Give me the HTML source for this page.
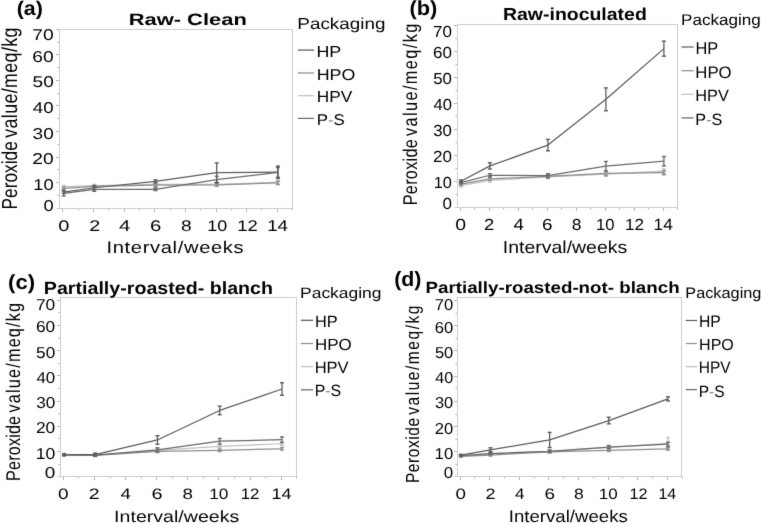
<!DOCTYPE html>
<html><head><meta charset="utf-8"><style>
html,body{margin:0;padding:0;background:#fff;}
body{width:761px;height:524px;overflow:hidden;}
svg{display:block;}
#w{width:761px;height:524px;filter:grayscale(1);}
text{font-family:"Liberation Sans",sans-serif;font-kerning:none;text-rendering:geometricPrecision;}
</style></head><body>
<div id="w"><svg width="761" height="524" viewBox="0 0 761 524">
<defs><filter id="sf" x="0" y="0" width="761" height="524" filterUnits="userSpaceOnUse" color-interpolation-filters="sRGB"><feConvolveMatrix order="3" kernelMatrix="0.01 0.1 0.01 0.1 1 0.1 0.01 0.1 0.01" divisor="1.44" edgeMode="duplicate"/></filter></defs>
<g filter="url(#sf)">
<rect width="761" height="524" fill="#fff"/>
<line x1="57.5" y1="195.5" x2="59.5" y2="195.5" stroke="#b4b4b4" stroke-width="1"/>
<line x1="56" y1="182.5" x2="59.5" y2="182.5" stroke="#b4b4b4" stroke-width="1"/>
<line x1="57.5" y1="169.5" x2="59.5" y2="169.5" stroke="#b4b4b4" stroke-width="1"/>
<line x1="56" y1="157.5" x2="59.5" y2="157.5" stroke="#b4b4b4" stroke-width="1"/>
<line x1="57.5" y1="144.5" x2="59.5" y2="144.5" stroke="#b4b4b4" stroke-width="1"/>
<line x1="56" y1="131.5" x2="59.5" y2="131.5" stroke="#b4b4b4" stroke-width="1"/>
<line x1="57.5" y1="118.5" x2="59.5" y2="118.5" stroke="#b4b4b4" stroke-width="1"/>
<line x1="56" y1="105.5" x2="59.5" y2="105.5" stroke="#b4b4b4" stroke-width="1"/>
<line x1="57.5" y1="93.5" x2="59.5" y2="93.5" stroke="#b4b4b4" stroke-width="1"/>
<line x1="56" y1="80.5" x2="59.5" y2="80.5" stroke="#b4b4b4" stroke-width="1"/>
<line x1="57.5" y1="67.5" x2="59.5" y2="67.5" stroke="#b4b4b4" stroke-width="1"/>
<line x1="56" y1="54.5" x2="59.5" y2="54.5" stroke="#b4b4b4" stroke-width="1"/>
<line x1="57.5" y1="42.5" x2="59.5" y2="42.5" stroke="#b4b4b4" stroke-width="1"/>
<line x1="56" y1="29.5" x2="59.5" y2="29.5" stroke="#b4b4b4" stroke-width="1"/>
<line x1="62.5" y1="208.5" x2="62.5" y2="212" stroke="#b4b4b4" stroke-width="1"/>
<line x1="78.5" y1="208.5" x2="78.5" y2="210.5" stroke="#b4b4b4" stroke-width="1"/>
<line x1="93.5" y1="208.5" x2="93.5" y2="212" stroke="#b4b4b4" stroke-width="1"/>
<line x1="108.5" y1="208.5" x2="108.5" y2="210.5" stroke="#b4b4b4" stroke-width="1"/>
<line x1="124.5" y1="208.5" x2="124.5" y2="212" stroke="#b4b4b4" stroke-width="1"/>
<line x1="139.5" y1="208.5" x2="139.5" y2="210.5" stroke="#b4b4b4" stroke-width="1"/>
<line x1="154.5" y1="208.5" x2="154.5" y2="212" stroke="#b4b4b4" stroke-width="1"/>
<line x1="170.5" y1="208.5" x2="170.5" y2="210.5" stroke="#b4b4b4" stroke-width="1"/>
<line x1="185.5" y1="208.5" x2="185.5" y2="212" stroke="#b4b4b4" stroke-width="1"/>
<line x1="200.5" y1="208.5" x2="200.5" y2="210.5" stroke="#b4b4b4" stroke-width="1"/>
<line x1="216.5" y1="208.5" x2="216.5" y2="212" stroke="#b4b4b4" stroke-width="1"/>
<line x1="231.5" y1="208.5" x2="231.5" y2="210.5" stroke="#b4b4b4" stroke-width="1"/>
<line x1="246.5" y1="208.5" x2="246.5" y2="212" stroke="#b4b4b4" stroke-width="1"/>
<line x1="261.5" y1="208.5" x2="261.5" y2="210.5" stroke="#b4b4b4" stroke-width="1"/>
<line x1="277.5" y1="208.5" x2="277.5" y2="212" stroke="#b4b4b4" stroke-width="1"/>
<line x1="292.5" y1="208.5" x2="292.5" y2="210.5" stroke="#b4b4b4" stroke-width="1"/>
<line x1="59" y1="29.5" x2="293" y2="29.5" stroke="#cdcdcd" stroke-width="1"/>
<line x1="292.5" y1="29.5" x2="292.5" y2="209" stroke="#cdcdcd" stroke-width="1"/>
<line x1="59.5" y1="29" x2="59.5" y2="209" stroke="#cdcdcd" stroke-width="1"/>
<line x1="56.5" y1="208.5" x2="293" y2="208.5" stroke="#cdcdcd" stroke-width="1"/>
<polyline points="63.7,186.73 94.3,185.71 155.5,184.43 216.7,184.43 277.9,182.38" fill="none" stroke="#c0c0c0" stroke-width="1.25" stroke-linejoin="round"/>
<line x1="63.7" y1="185.45" x2="63.7" y2="188.01" stroke="#c0c0c0" stroke-width="1.3"/>
<line x1="61.7" y1="185.45" x2="65.7" y2="185.45" stroke="#c0c0c0" stroke-width="1.4"/>
<line x1="61.7" y1="188.01" x2="65.7" y2="188.01" stroke="#c0c0c0" stroke-width="1.4"/>
<line x1="94.3" y1="184.43" x2="94.3" y2="186.99" stroke="#c0c0c0" stroke-width="1.3"/>
<line x1="92.3" y1="184.43" x2="96.3" y2="184.43" stroke="#c0c0c0" stroke-width="1.4"/>
<line x1="92.3" y1="186.99" x2="96.3" y2="186.99" stroke="#c0c0c0" stroke-width="1.4"/>
<line x1="155.5" y1="181.36" x2="155.5" y2="187.5" stroke="#c0c0c0" stroke-width="1.3"/>
<line x1="153.5" y1="181.36" x2="157.5" y2="181.36" stroke="#c0c0c0" stroke-width="1.4"/>
<line x1="153.5" y1="187.5" x2="157.5" y2="187.5" stroke="#c0c0c0" stroke-width="1.4"/>
<line x1="216.7" y1="182.9" x2="216.7" y2="185.96" stroke="#c0c0c0" stroke-width="1.3"/>
<line x1="214.7" y1="182.9" x2="218.7" y2="182.9" stroke="#c0c0c0" stroke-width="1.4"/>
<line x1="214.7" y1="185.96" x2="218.7" y2="185.96" stroke="#c0c0c0" stroke-width="1.4"/>
<line x1="277.9" y1="180.08" x2="277.9" y2="184.68" stroke="#c0c0c0" stroke-width="1.3"/>
<line x1="275.9" y1="180.08" x2="279.9" y2="180.08" stroke="#c0c0c0" stroke-width="1.4"/>
<line x1="275.9" y1="184.68" x2="279.9" y2="184.68" stroke="#c0c0c0" stroke-width="1.4"/>
<polyline points="63.7,188.26 94.3,186.47 155.5,185.2 216.7,184.94 277.9,182.9" fill="none" stroke="#8e8e8e" stroke-width="1.25" stroke-linejoin="round"/>
<line x1="63.7" y1="187.24" x2="63.7" y2="189.29" stroke="#8e8e8e" stroke-width="1.3"/>
<line x1="61.7" y1="187.24" x2="65.7" y2="187.24" stroke="#8e8e8e" stroke-width="1.4"/>
<line x1="61.7" y1="189.29" x2="65.7" y2="189.29" stroke="#8e8e8e" stroke-width="1.4"/>
<line x1="94.3" y1="185.45" x2="94.3" y2="187.5" stroke="#8e8e8e" stroke-width="1.3"/>
<line x1="92.3" y1="185.45" x2="96.3" y2="185.45" stroke="#8e8e8e" stroke-width="1.4"/>
<line x1="92.3" y1="187.5" x2="96.3" y2="187.5" stroke="#8e8e8e" stroke-width="1.4"/>
<line x1="155.5" y1="183.92" x2="155.5" y2="186.47" stroke="#8e8e8e" stroke-width="1.3"/>
<line x1="153.5" y1="183.92" x2="157.5" y2="183.92" stroke="#8e8e8e" stroke-width="1.4"/>
<line x1="153.5" y1="186.47" x2="157.5" y2="186.47" stroke="#8e8e8e" stroke-width="1.4"/>
<line x1="216.7" y1="183.66" x2="216.7" y2="186.22" stroke="#8e8e8e" stroke-width="1.3"/>
<line x1="214.7" y1="183.66" x2="218.7" y2="183.66" stroke="#8e8e8e" stroke-width="1.4"/>
<line x1="214.7" y1="186.22" x2="218.7" y2="186.22" stroke="#8e8e8e" stroke-width="1.4"/>
<line x1="277.9" y1="181.36" x2="277.9" y2="184.43" stroke="#8e8e8e" stroke-width="1.3"/>
<line x1="275.9" y1="181.36" x2="279.9" y2="181.36" stroke="#8e8e8e" stroke-width="1.4"/>
<line x1="275.9" y1="184.43" x2="279.9" y2="184.43" stroke="#8e8e8e" stroke-width="1.4"/>
<polyline points="63.7,193.38 94.3,189.29 155.5,189.29 216.7,179.57 277.9,172.42" fill="none" stroke="#6a6a6a" stroke-width="1.25" stroke-linejoin="round"/>
<line x1="63.7" y1="190.82" x2="63.7" y2="195.93" stroke="#6a6a6a" stroke-width="1.3"/>
<line x1="61.7" y1="190.82" x2="65.7" y2="190.82" stroke="#6a6a6a" stroke-width="1.4"/>
<line x1="61.7" y1="195.93" x2="65.7" y2="195.93" stroke="#6a6a6a" stroke-width="1.4"/>
<line x1="94.3" y1="187.24" x2="94.3" y2="191.33" stroke="#6a6a6a" stroke-width="1.3"/>
<line x1="92.3" y1="187.24" x2="96.3" y2="187.24" stroke="#6a6a6a" stroke-width="1.4"/>
<line x1="92.3" y1="191.33" x2="96.3" y2="191.33" stroke="#6a6a6a" stroke-width="1.4"/>
<line x1="155.5" y1="188.01" x2="155.5" y2="190.56" stroke="#6a6a6a" stroke-width="1.3"/>
<line x1="153.5" y1="188.01" x2="157.5" y2="188.01" stroke="#6a6a6a" stroke-width="1.4"/>
<line x1="153.5" y1="190.56" x2="157.5" y2="190.56" stroke="#6a6a6a" stroke-width="1.4"/>
<line x1="216.7" y1="176.25" x2="216.7" y2="182.9" stroke="#6a6a6a" stroke-width="1.3"/>
<line x1="214.7" y1="176.25" x2="218.7" y2="176.25" stroke="#6a6a6a" stroke-width="1.4"/>
<line x1="214.7" y1="182.9" x2="218.7" y2="182.9" stroke="#6a6a6a" stroke-width="1.4"/>
<line x1="277.9" y1="167.56" x2="277.9" y2="177.27" stroke="#6a6a6a" stroke-width="1.3"/>
<line x1="275.9" y1="167.56" x2="279.9" y2="167.56" stroke="#6a6a6a" stroke-width="1.4"/>
<line x1="275.9" y1="177.27" x2="279.9" y2="177.27" stroke="#6a6a6a" stroke-width="1.4"/>
<polyline points="63.7,192.1 94.3,187.75 155.5,181.36 216.7,172.67 277.9,172.16" fill="none" stroke="#5c5c5c" stroke-width="1.25" stroke-linejoin="round"/>
<line x1="63.7" y1="190.82" x2="63.7" y2="193.38" stroke="#5c5c5c" stroke-width="1.3"/>
<line x1="61.7" y1="190.82" x2="65.7" y2="190.82" stroke="#5c5c5c" stroke-width="1.4"/>
<line x1="61.7" y1="193.38" x2="65.7" y2="193.38" stroke="#5c5c5c" stroke-width="1.4"/>
<line x1="94.3" y1="185.71" x2="94.3" y2="189.8" stroke="#5c5c5c" stroke-width="1.3"/>
<line x1="92.3" y1="185.71" x2="96.3" y2="185.71" stroke="#5c5c5c" stroke-width="1.4"/>
<line x1="92.3" y1="189.8" x2="96.3" y2="189.8" stroke="#5c5c5c" stroke-width="1.4"/>
<line x1="155.5" y1="179.83" x2="155.5" y2="182.9" stroke="#5c5c5c" stroke-width="1.3"/>
<line x1="153.5" y1="179.83" x2="157.5" y2="179.83" stroke="#5c5c5c" stroke-width="1.4"/>
<line x1="153.5" y1="182.9" x2="157.5" y2="182.9" stroke="#5c5c5c" stroke-width="1.4"/>
<line x1="216.7" y1="162.96" x2="216.7" y2="182.38" stroke="#5c5c5c" stroke-width="1.3"/>
<line x1="214.7" y1="162.96" x2="218.7" y2="162.96" stroke="#5c5c5c" stroke-width="1.4"/>
<line x1="214.7" y1="182.38" x2="218.7" y2="182.38" stroke="#5c5c5c" stroke-width="1.4"/>
<line x1="277.9" y1="166.03" x2="277.9" y2="178.29" stroke="#5c5c5c" stroke-width="1.3"/>
<line x1="275.9" y1="166.03" x2="279.9" y2="166.03" stroke="#5c5c5c" stroke-width="1.4"/>
<line x1="275.9" y1="178.29" x2="279.9" y2="178.29" stroke="#5c5c5c" stroke-width="1.4"/>
<text transform="translate(16.63 15.18) scale(1.08171 1)" font-size="19.847" font-weight="bold" fill="#000">(a)</text>
<text transform="translate(128.63 24.8) scale(1.33675 1)" font-size="16.423" font-weight="bold" fill="#000">Raw- Clean</text>
<text transform="translate(297.35 29) scale(1.18958 1)" font-size="15.871" fill="#000">Packaging</text>
<text transform="translate(316.44 56.8) scale(1.12712 1)" font-size="15.843" fill="#000">HP</text>
<text transform="translate(316.64 79.6) scale(1.14149 1)" font-size="15.611" fill="#000">HPO</text>
<text transform="translate(316.68 101.9) scale(1.09271 1)" font-size="15.843" fill="#000">HPV</text>
<text transform="translate(316.71 124.5) scale(1.08217 1)" font-size="15.611" fill="#000">P<tspan fill="#8c8c8c">-</tspan>S</text>
<text transform="translate(106.54 252.7) scale(1.20000 1)" font-size="16.837" letter-spacing="0.517" fill="#000">Interval/weeks</text>
<text transform="translate(17.1 209.42) rotate(-90) scale(0.79735 1)" font-size="21.667" fill="#000">Peroxide</text>
<text transform="translate(17.1 137.76) rotate(-90) scale(0.82000 1)" font-size="21.667" letter-spacing="0.503" fill="#000">value/meq/kg</text>
<text transform="translate(43.48 211.05) scale(1.17421 1)" font-size="15.678" fill="#000">0</text>
<text transform="translate(33.3 189.64) scale(1.17069 1)" font-size="15.678" fill="#000">10</text>
<text transform="translate(32.33 164.08) scale(1.22836 1)" font-size="15.678" fill="#000">20</text>
<text transform="translate(32.58 138.52) scale(1.21388 1)" font-size="15.678" fill="#000">30</text>
<text transform="translate(32.87 112.96) scale(1.19638 1)" font-size="15.678" fill="#000">40</text>
<text transform="translate(32.54 87.4) scale(1.21617 1)" font-size="15.678" fill="#000">50</text>
<text transform="translate(32.32 61.84) scale(1.22895 1)" font-size="15.678" fill="#000">60</text>
<text transform="translate(32.31 40.05) scale(1.22954 1)" font-size="15.678" fill="#000">70</text>
<text transform="translate(58.22 230.85) scale(1.31654 1)" font-size="15.254" fill="#000">0</text>
<text transform="translate(89.21 231) scale(1.27724 1)" font-size="15.467" fill="#000">2</text>
<text transform="translate(118.93 231) scale(1.30210 1)" font-size="15.698" fill="#000">4</text>
<text transform="translate(149.97 230.85) scale(1.33549 1)" font-size="15.254" fill="#000">6</text>
<text transform="translate(180.97 230.85) scale(1.25737 1)" font-size="15.254" fill="#000">8</text>
<text transform="translate(207.23 230.85) scale(1.17691 1)" font-size="15.254" fill="#000">10</text>
<text transform="translate(237.19 231) scale(1.19357 1)" font-size="15.467" fill="#000">12</text>
<text transform="translate(267.17 231) scale(1.19581 1)" font-size="15.698" fill="#000">14</text>
<line x1="298" y1="50.1" x2="313.9" y2="50.1" stroke="#5c5c5c" stroke-width="1.25"/>
<line x1="298" y1="73" x2="313.9" y2="73" stroke="#8e8e8e" stroke-width="1.25"/>
<line x1="298" y1="95.7" x2="313.9" y2="95.7" stroke="#c0c0c0" stroke-width="1.25"/>
<line x1="298" y1="118.4" x2="313.9" y2="118.4" stroke="#6a6a6a" stroke-width="1.25"/>
<line x1="455.5" y1="194.5" x2="457.5" y2="194.5" stroke="#b4b4b4" stroke-width="1"/>
<line x1="454" y1="181.5" x2="457.5" y2="181.5" stroke="#b4b4b4" stroke-width="1"/>
<line x1="455.5" y1="168.5" x2="457.5" y2="168.5" stroke="#b4b4b4" stroke-width="1"/>
<line x1="454" y1="155.5" x2="457.5" y2="155.5" stroke="#b4b4b4" stroke-width="1"/>
<line x1="455.5" y1="142.5" x2="457.5" y2="142.5" stroke="#b4b4b4" stroke-width="1"/>
<line x1="454" y1="129.5" x2="457.5" y2="129.5" stroke="#b4b4b4" stroke-width="1"/>
<line x1="455.5" y1="116.5" x2="457.5" y2="116.5" stroke="#b4b4b4" stroke-width="1"/>
<line x1="454" y1="103.5" x2="457.5" y2="103.5" stroke="#b4b4b4" stroke-width="1"/>
<line x1="455.5" y1="90.5" x2="457.5" y2="90.5" stroke="#b4b4b4" stroke-width="1"/>
<line x1="454" y1="77.5" x2="457.5" y2="77.5" stroke="#b4b4b4" stroke-width="1"/>
<line x1="455.5" y1="64.5" x2="457.5" y2="64.5" stroke="#b4b4b4" stroke-width="1"/>
<line x1="454" y1="51.5" x2="457.5" y2="51.5" stroke="#b4b4b4" stroke-width="1"/>
<line x1="455.5" y1="38.5" x2="457.5" y2="38.5" stroke="#b4b4b4" stroke-width="1"/>
<line x1="454" y1="25.5" x2="457.5" y2="25.5" stroke="#b4b4b4" stroke-width="1"/>
<line x1="460.5" y1="207.5" x2="460.5" y2="211" stroke="#b4b4b4" stroke-width="1"/>
<line x1="474.5" y1="207.5" x2="474.5" y2="209.5" stroke="#b4b4b4" stroke-width="1"/>
<line x1="489.5" y1="207.5" x2="489.5" y2="211" stroke="#b4b4b4" stroke-width="1"/>
<line x1="503.5" y1="207.5" x2="503.5" y2="209.5" stroke="#b4b4b4" stroke-width="1"/>
<line x1="518.5" y1="207.5" x2="518.5" y2="211" stroke="#b4b4b4" stroke-width="1"/>
<line x1="532.5" y1="207.5" x2="532.5" y2="209.5" stroke="#b4b4b4" stroke-width="1"/>
<line x1="547.5" y1="207.5" x2="547.5" y2="211" stroke="#b4b4b4" stroke-width="1"/>
<line x1="561.5" y1="207.5" x2="561.5" y2="209.5" stroke="#b4b4b4" stroke-width="1"/>
<line x1="576.5" y1="207.5" x2="576.5" y2="211" stroke="#b4b4b4" stroke-width="1"/>
<line x1="590.5" y1="207.5" x2="590.5" y2="209.5" stroke="#b4b4b4" stroke-width="1"/>
<line x1="605.5" y1="207.5" x2="605.5" y2="211" stroke="#b4b4b4" stroke-width="1"/>
<line x1="619.5" y1="207.5" x2="619.5" y2="209.5" stroke="#b4b4b4" stroke-width="1"/>
<line x1="634.5" y1="207.5" x2="634.5" y2="211" stroke="#b4b4b4" stroke-width="1"/>
<line x1="648.5" y1="207.5" x2="648.5" y2="209.5" stroke="#b4b4b4" stroke-width="1"/>
<line x1="663.5" y1="207.5" x2="663.5" y2="211" stroke="#b4b4b4" stroke-width="1"/>
<line x1="677.5" y1="207.5" x2="677.5" y2="209.5" stroke="#b4b4b4" stroke-width="1"/>
<line x1="457" y1="24.5" x2="678" y2="24.5" stroke="#cdcdcd" stroke-width="1"/>
<line x1="677.5" y1="24.5" x2="677.5" y2="208" stroke="#cdcdcd" stroke-width="1"/>
<line x1="457.5" y1="24" x2="457.5" y2="208" stroke="#cdcdcd" stroke-width="1"/>
<line x1="454.5" y1="207.5" x2="678" y2="207.5" stroke="#cdcdcd" stroke-width="1"/>
<polyline points="460.9,185.66 489.9,180.46 547.9,176.82 605.9,174.22 663.9,171.1" fill="none" stroke="#c0c0c0" stroke-width="1.25" stroke-linejoin="round"/>
<line x1="460.9" y1="184.36" x2="460.9" y2="186.96" stroke="#c0c0c0" stroke-width="1.3"/>
<line x1="458.9" y1="184.36" x2="462.9" y2="184.36" stroke="#c0c0c0" stroke-width="1.4"/>
<line x1="458.9" y1="186.96" x2="462.9" y2="186.96" stroke="#c0c0c0" stroke-width="1.4"/>
<line x1="489.9" y1="178.9" x2="489.9" y2="182.02" stroke="#c0c0c0" stroke-width="1.3"/>
<line x1="487.9" y1="178.9" x2="491.9" y2="178.9" stroke="#c0c0c0" stroke-width="1.4"/>
<line x1="487.9" y1="182.02" x2="491.9" y2="182.02" stroke="#c0c0c0" stroke-width="1.4"/>
<line x1="547.9" y1="175" x2="547.9" y2="178.64" stroke="#c0c0c0" stroke-width="1.3"/>
<line x1="545.9" y1="175" x2="549.9" y2="175" stroke="#c0c0c0" stroke-width="1.4"/>
<line x1="545.9" y1="178.64" x2="549.9" y2="178.64" stroke="#c0c0c0" stroke-width="1.4"/>
<line x1="605.9" y1="172.14" x2="605.9" y2="176.3" stroke="#c0c0c0" stroke-width="1.3"/>
<line x1="603.9" y1="172.14" x2="607.9" y2="172.14" stroke="#c0c0c0" stroke-width="1.4"/>
<line x1="603.9" y1="176.3" x2="607.9" y2="176.3" stroke="#c0c0c0" stroke-width="1.4"/>
<line x1="663.9" y1="169.02" x2="663.9" y2="173.18" stroke="#c0c0c0" stroke-width="1.3"/>
<line x1="661.9" y1="169.02" x2="665.9" y2="169.02" stroke="#c0c0c0" stroke-width="1.4"/>
<line x1="661.9" y1="173.18" x2="665.9" y2="173.18" stroke="#c0c0c0" stroke-width="1.4"/>
<polyline points="460.9,184.1 489.9,178.9 547.9,176.3 605.9,173.44 663.9,172.66" fill="none" stroke="#8e8e8e" stroke-width="1.25" stroke-linejoin="round"/>
<line x1="460.9" y1="182.8" x2="460.9" y2="185.4" stroke="#8e8e8e" stroke-width="1.3"/>
<line x1="458.9" y1="182.8" x2="462.9" y2="182.8" stroke="#8e8e8e" stroke-width="1.4"/>
<line x1="458.9" y1="185.4" x2="462.9" y2="185.4" stroke="#8e8e8e" stroke-width="1.4"/>
<line x1="489.9" y1="177.6" x2="489.9" y2="180.2" stroke="#8e8e8e" stroke-width="1.3"/>
<line x1="487.9" y1="177.6" x2="491.9" y2="177.6" stroke="#8e8e8e" stroke-width="1.4"/>
<line x1="487.9" y1="180.2" x2="491.9" y2="180.2" stroke="#8e8e8e" stroke-width="1.4"/>
<line x1="547.9" y1="174.48" x2="547.9" y2="178.12" stroke="#8e8e8e" stroke-width="1.3"/>
<line x1="545.9" y1="174.48" x2="549.9" y2="174.48" stroke="#8e8e8e" stroke-width="1.4"/>
<line x1="545.9" y1="178.12" x2="549.9" y2="178.12" stroke="#8e8e8e" stroke-width="1.4"/>
<line x1="605.9" y1="171.36" x2="605.9" y2="175.52" stroke="#8e8e8e" stroke-width="1.3"/>
<line x1="603.9" y1="171.36" x2="607.9" y2="171.36" stroke="#8e8e8e" stroke-width="1.4"/>
<line x1="603.9" y1="175.52" x2="607.9" y2="175.52" stroke="#8e8e8e" stroke-width="1.4"/>
<line x1="663.9" y1="170.58" x2="663.9" y2="174.74" stroke="#8e8e8e" stroke-width="1.3"/>
<line x1="661.9" y1="170.58" x2="665.9" y2="170.58" stroke="#8e8e8e" stroke-width="1.4"/>
<line x1="661.9" y1="174.74" x2="665.9" y2="174.74" stroke="#8e8e8e" stroke-width="1.4"/>
<polyline points="460.9,182.54 489.9,175.26 547.9,175.52 605.9,166.16 663.9,161.22" fill="none" stroke="#6a6a6a" stroke-width="1.25" stroke-linejoin="round"/>
<line x1="460.9" y1="181.24" x2="460.9" y2="183.84" stroke="#6a6a6a" stroke-width="1.3"/>
<line x1="458.9" y1="181.24" x2="462.9" y2="181.24" stroke="#6a6a6a" stroke-width="1.4"/>
<line x1="458.9" y1="183.84" x2="462.9" y2="183.84" stroke="#6a6a6a" stroke-width="1.4"/>
<line x1="489.9" y1="173.7" x2="489.9" y2="176.82" stroke="#6a6a6a" stroke-width="1.3"/>
<line x1="487.9" y1="173.7" x2="491.9" y2="173.7" stroke="#6a6a6a" stroke-width="1.4"/>
<line x1="487.9" y1="176.82" x2="491.9" y2="176.82" stroke="#6a6a6a" stroke-width="1.4"/>
<line x1="547.9" y1="173.7" x2="547.9" y2="177.34" stroke="#6a6a6a" stroke-width="1.3"/>
<line x1="545.9" y1="173.7" x2="549.9" y2="173.7" stroke="#6a6a6a" stroke-width="1.4"/>
<line x1="545.9" y1="177.34" x2="549.9" y2="177.34" stroke="#6a6a6a" stroke-width="1.4"/>
<line x1="605.9" y1="161.48" x2="605.9" y2="170.84" stroke="#6a6a6a" stroke-width="1.3"/>
<line x1="603.9" y1="161.48" x2="607.9" y2="161.48" stroke="#6a6a6a" stroke-width="1.4"/>
<line x1="603.9" y1="170.84" x2="607.9" y2="170.84" stroke="#6a6a6a" stroke-width="1.4"/>
<line x1="663.9" y1="156.54" x2="663.9" y2="165.9" stroke="#6a6a6a" stroke-width="1.3"/>
<line x1="661.9" y1="156.54" x2="665.9" y2="156.54" stroke="#6a6a6a" stroke-width="1.4"/>
<line x1="661.9" y1="165.9" x2="665.9" y2="165.9" stroke="#6a6a6a" stroke-width="1.4"/>
<polyline points="460.9,181.24 489.9,165.9 547.9,145.1 605.9,99.34 663.9,48.64" fill="none" stroke="#5c5c5c" stroke-width="1.25" stroke-linejoin="round"/>
<line x1="460.9" y1="179.94" x2="460.9" y2="182.54" stroke="#5c5c5c" stroke-width="1.3"/>
<line x1="458.9" y1="179.94" x2="462.9" y2="179.94" stroke="#5c5c5c" stroke-width="1.4"/>
<line x1="458.9" y1="182.54" x2="462.9" y2="182.54" stroke="#5c5c5c" stroke-width="1.4"/>
<line x1="489.9" y1="162.78" x2="489.9" y2="169.02" stroke="#5c5c5c" stroke-width="1.3"/>
<line x1="487.9" y1="162.78" x2="491.9" y2="162.78" stroke="#5c5c5c" stroke-width="1.4"/>
<line x1="487.9" y1="169.02" x2="491.9" y2="169.02" stroke="#5c5c5c" stroke-width="1.4"/>
<line x1="547.9" y1="139.38" x2="547.9" y2="150.82" stroke="#5c5c5c" stroke-width="1.3"/>
<line x1="545.9" y1="139.38" x2="549.9" y2="139.38" stroke="#5c5c5c" stroke-width="1.4"/>
<line x1="545.9" y1="150.82" x2="549.9" y2="150.82" stroke="#5c5c5c" stroke-width="1.4"/>
<line x1="605.9" y1="87.9" x2="605.9" y2="110.78" stroke="#5c5c5c" stroke-width="1.3"/>
<line x1="603.9" y1="87.9" x2="607.9" y2="87.9" stroke="#5c5c5c" stroke-width="1.4"/>
<line x1="603.9" y1="110.78" x2="607.9" y2="110.78" stroke="#5c5c5c" stroke-width="1.4"/>
<line x1="663.9" y1="41.1" x2="663.9" y2="56.18" stroke="#5c5c5c" stroke-width="1.3"/>
<line x1="661.9" y1="41.1" x2="665.9" y2="41.1" stroke="#5c5c5c" stroke-width="1.4"/>
<line x1="661.9" y1="56.18" x2="665.9" y2="56.18" stroke="#5c5c5c" stroke-width="1.4"/>
<text transform="translate(409.51 15.07) scale(1.07100 1)" font-size="20.383" font-weight="bold" fill="#000">(b)</text>
<text transform="translate(503 20) scale(1.11977 1)" font-size="17.389" font-weight="bold" fill="#000">Raw-inoculated</text>
<text transform="translate(681 24.8) scale(1.10703 1)" font-size="15.457" fill="#000">Packaging</text>
<text transform="translate(695.45 53.9) scale(0.95749 1)" font-size="17.151" fill="#000">HP</text>
<text transform="translate(695.33 77.6) scale(1.00760 1)" font-size="16.613" fill="#000">HPO</text>
<text transform="translate(695.36 101) scale(0.99221 1)" font-size="16.425" fill="#000">HPV</text>
<text transform="translate(695.37 124.8) scale(0.98232 1)" font-size="16.470" fill="#000">P<tspan fill="#8c8c8c">-</tspan>S</text>
<text transform="translate(502.8 252.7) scale(1.12021 1)" font-size="17.389" fill="#000">Interval/weeks</text>
<text transform="translate(417.1 205.34) rotate(-90) scale(0.82000 1)" font-size="19.873" letter-spacing="0.339" fill="#000">Peroxide</text>
<text transform="translate(417.1 136.06) rotate(-90) scale(0.82000 1)" font-size="19.873" letter-spacing="1.717" fill="#000">value/meq/kg</text>
<text transform="translate(442.54 208.54) scale(1.05236 1)" font-size="16.102" fill="#000">0</text>
<text transform="translate(433.75 188.04) scale(1.01530 1)" font-size="16.102" fill="#000">10</text>
<text transform="translate(433.04 162.04) scale(1.05640 1)" font-size="16.102" fill="#000">20</text>
<text transform="translate(433.26 136.04) scale(1.04394 1)" font-size="16.102" fill="#000">30</text>
<text transform="translate(433.52 110.04) scale(1.02890 1)" font-size="16.102" fill="#000">40</text>
<text transform="translate(433.23 84.04) scale(1.04592 1)" font-size="16.102" fill="#000">50</text>
<text transform="translate(433.04 58.04) scale(1.05690 1)" font-size="16.102" fill="#000">60</text>
<text transform="translate(433.03 36.74) scale(1.05741 1)" font-size="16.102" fill="#000">70</text>
<text transform="translate(455.24 229.64) scale(1.21896 1)" font-size="15.960" fill="#000">0</text>
<text transform="translate(484.07 229.8) scale(1.13934 1)" font-size="16.183" fill="#000">2</text>
<text transform="translate(513.47 229.8) scale(1.13574 1)" font-size="16.425" fill="#000">4</text>
<text transform="translate(542.04 229.64) scale(1.18135 1)" font-size="15.960" fill="#000">6</text>
<text transform="translate(571.84 229.64) scale(1.09491 1)" font-size="15.960" fill="#000">8</text>
<text transform="translate(596.03 229.64) scale(1.04314 1)" font-size="15.960" fill="#000">10</text>
<text transform="translate(624.89 229.8) scale(1.05927 1)" font-size="16.183" fill="#000">12</text>
<text transform="translate(653.58 229.8) scale(1.05219 1)" font-size="16.425" fill="#000">14</text>
<line x1="681.5" y1="47" x2="693.6" y2="47" stroke="#5c5c5c" stroke-width="1.25"/>
<line x1="681.5" y1="70.7" x2="693.6" y2="70.7" stroke="#8e8e8e" stroke-width="1.25"/>
<line x1="681.5" y1="94.3" x2="693.6" y2="94.3" stroke="#c0c0c0" stroke-width="1.25"/>
<line x1="681.5" y1="117.9" x2="693.6" y2="117.9" stroke="#6a6a6a" stroke-width="1.25"/>
<line x1="58.5" y1="464.5" x2="60.5" y2="464.5" stroke="#b4b4b4" stroke-width="1"/>
<line x1="57" y1="451.5" x2="60.5" y2="451.5" stroke="#b4b4b4" stroke-width="1"/>
<line x1="58.5" y1="438.5" x2="60.5" y2="438.5" stroke="#b4b4b4" stroke-width="1"/>
<line x1="57" y1="426.5" x2="60.5" y2="426.5" stroke="#b4b4b4" stroke-width="1"/>
<line x1="58.5" y1="413.5" x2="60.5" y2="413.5" stroke="#b4b4b4" stroke-width="1"/>
<line x1="57" y1="401.5" x2="60.5" y2="401.5" stroke="#b4b4b4" stroke-width="1"/>
<line x1="58.5" y1="388.5" x2="60.5" y2="388.5" stroke="#b4b4b4" stroke-width="1"/>
<line x1="57" y1="375.5" x2="60.5" y2="375.5" stroke="#b4b4b4" stroke-width="1"/>
<line x1="58.5" y1="363.5" x2="60.5" y2="363.5" stroke="#b4b4b4" stroke-width="1"/>
<line x1="57" y1="350.5" x2="60.5" y2="350.5" stroke="#b4b4b4" stroke-width="1"/>
<line x1="58.5" y1="338.5" x2="60.5" y2="338.5" stroke="#b4b4b4" stroke-width="1"/>
<line x1="57" y1="325.5" x2="60.5" y2="325.5" stroke="#b4b4b4" stroke-width="1"/>
<line x1="58.5" y1="312.5" x2="60.5" y2="312.5" stroke="#b4b4b4" stroke-width="1"/>
<line x1="57" y1="300.5" x2="60.5" y2="300.5" stroke="#b4b4b4" stroke-width="1"/>
<line x1="63.5" y1="476.5" x2="63.5" y2="480" stroke="#b4b4b4" stroke-width="1"/>
<line x1="78.5" y1="476.5" x2="78.5" y2="478.5" stroke="#b4b4b4" stroke-width="1"/>
<line x1="94.5" y1="476.5" x2="94.5" y2="480" stroke="#b4b4b4" stroke-width="1"/>
<line x1="110.5" y1="476.5" x2="110.5" y2="478.5" stroke="#b4b4b4" stroke-width="1"/>
<line x1="125.5" y1="476.5" x2="125.5" y2="480" stroke="#b4b4b4" stroke-width="1"/>
<line x1="141.5" y1="476.5" x2="141.5" y2="478.5" stroke="#b4b4b4" stroke-width="1"/>
<line x1="156.5" y1="476.5" x2="156.5" y2="480" stroke="#b4b4b4" stroke-width="1"/>
<line x1="172.5" y1="476.5" x2="172.5" y2="478.5" stroke="#b4b4b4" stroke-width="1"/>
<line x1="187.5" y1="476.5" x2="187.5" y2="480" stroke="#b4b4b4" stroke-width="1"/>
<line x1="203.5" y1="476.5" x2="203.5" y2="478.5" stroke="#b4b4b4" stroke-width="1"/>
<line x1="218.5" y1="476.5" x2="218.5" y2="480" stroke="#b4b4b4" stroke-width="1"/>
<line x1="234.5" y1="476.5" x2="234.5" y2="478.5" stroke="#b4b4b4" stroke-width="1"/>
<line x1="250.5" y1="476.5" x2="250.5" y2="480" stroke="#b4b4b4" stroke-width="1"/>
<line x1="265.5" y1="476.5" x2="265.5" y2="478.5" stroke="#b4b4b4" stroke-width="1"/>
<line x1="281.5" y1="476.5" x2="281.5" y2="480" stroke="#b4b4b4" stroke-width="1"/>
<line x1="296.5" y1="476.5" x2="296.5" y2="478.5" stroke="#b4b4b4" stroke-width="1"/>
<line x1="60" y1="297.5" x2="297" y2="297.5" stroke="#cdcdcd" stroke-width="1"/>
<line x1="296.5" y1="297.5" x2="296.5" y2="477" stroke="#cdcdcd" stroke-width="1"/>
<line x1="60.5" y1="297" x2="60.5" y2="477" stroke="#cdcdcd" stroke-width="1"/>
<line x1="57.5" y1="476.5" x2="297" y2="476.5" stroke="#cdcdcd" stroke-width="1"/>
<polyline points="64,455.1 95.14,455.1 157.42,450.31 219.7,446.27 281.98,443.75" fill="none" stroke="#c0c0c0" stroke-width="1.25" stroke-linejoin="round"/>
<line x1="64" y1="454.35" x2="64" y2="455.86" stroke="#c0c0c0" stroke-width="1.3"/>
<line x1="62" y1="454.35" x2="66" y2="454.35" stroke="#c0c0c0" stroke-width="1.4"/>
<line x1="62" y1="455.86" x2="66" y2="455.86" stroke="#c0c0c0" stroke-width="1.4"/>
<line x1="95.14" y1="454.09" x2="95.14" y2="456.11" stroke="#c0c0c0" stroke-width="1.3"/>
<line x1="93.14" y1="454.09" x2="97.14" y2="454.09" stroke="#c0c0c0" stroke-width="1.4"/>
<line x1="93.14" y1="456.11" x2="97.14" y2="456.11" stroke="#c0c0c0" stroke-width="1.4"/>
<line x1="157.42" y1="449.05" x2="157.42" y2="451.57" stroke="#c0c0c0" stroke-width="1.3"/>
<line x1="155.42" y1="449.05" x2="159.42" y2="449.05" stroke="#c0c0c0" stroke-width="1.4"/>
<line x1="155.42" y1="451.57" x2="159.42" y2="451.57" stroke="#c0c0c0" stroke-width="1.4"/>
<line x1="219.7" y1="445.01" x2="219.7" y2="447.53" stroke="#c0c0c0" stroke-width="1.3"/>
<line x1="217.7" y1="445.01" x2="221.7" y2="445.01" stroke="#c0c0c0" stroke-width="1.4"/>
<line x1="217.7" y1="447.53" x2="221.7" y2="447.53" stroke="#c0c0c0" stroke-width="1.4"/>
<line x1="281.98" y1="442.23" x2="281.98" y2="445.26" stroke="#c0c0c0" stroke-width="1.3"/>
<line x1="279.98" y1="442.23" x2="283.98" y2="442.23" stroke="#c0c0c0" stroke-width="1.4"/>
<line x1="279.98" y1="445.26" x2="283.98" y2="445.26" stroke="#c0c0c0" stroke-width="1.4"/>
<polyline points="64,455.1 95.14,455.35 157.42,451.32 219.7,450.31 281.98,448.79" fill="none" stroke="#8e8e8e" stroke-width="1.25" stroke-linejoin="round"/>
<line x1="64" y1="454.35" x2="64" y2="455.86" stroke="#8e8e8e" stroke-width="1.3"/>
<line x1="62" y1="454.35" x2="66" y2="454.35" stroke="#8e8e8e" stroke-width="1.4"/>
<line x1="62" y1="455.86" x2="66" y2="455.86" stroke="#8e8e8e" stroke-width="1.4"/>
<line x1="95.14" y1="454.35" x2="95.14" y2="456.36" stroke="#8e8e8e" stroke-width="1.3"/>
<line x1="93.14" y1="454.35" x2="97.14" y2="454.35" stroke="#8e8e8e" stroke-width="1.4"/>
<line x1="93.14" y1="456.36" x2="97.14" y2="456.36" stroke="#8e8e8e" stroke-width="1.4"/>
<line x1="157.42" y1="450.06" x2="157.42" y2="452.58" stroke="#8e8e8e" stroke-width="1.3"/>
<line x1="155.42" y1="450.06" x2="159.42" y2="450.06" stroke="#8e8e8e" stroke-width="1.4"/>
<line x1="155.42" y1="452.58" x2="159.42" y2="452.58" stroke="#8e8e8e" stroke-width="1.4"/>
<line x1="219.7" y1="449.05" x2="219.7" y2="451.57" stroke="#8e8e8e" stroke-width="1.3"/>
<line x1="217.7" y1="449.05" x2="221.7" y2="449.05" stroke="#8e8e8e" stroke-width="1.4"/>
<line x1="217.7" y1="451.57" x2="221.7" y2="451.57" stroke="#8e8e8e" stroke-width="1.4"/>
<line x1="281.98" y1="447.53" x2="281.98" y2="450.06" stroke="#8e8e8e" stroke-width="1.3"/>
<line x1="279.98" y1="447.53" x2="283.98" y2="447.53" stroke="#8e8e8e" stroke-width="1.4"/>
<line x1="279.98" y1="450.06" x2="283.98" y2="450.06" stroke="#8e8e8e" stroke-width="1.4"/>
<polyline points="64,454.6 95.14,455.1 157.42,449.8 219.7,441.23 281.98,439.71" fill="none" stroke="#6a6a6a" stroke-width="1.25" stroke-linejoin="round"/>
<line x1="64" y1="453.84" x2="64" y2="455.35" stroke="#6a6a6a" stroke-width="1.3"/>
<line x1="62" y1="453.84" x2="66" y2="453.84" stroke="#6a6a6a" stroke-width="1.4"/>
<line x1="62" y1="455.35" x2="66" y2="455.35" stroke="#6a6a6a" stroke-width="1.4"/>
<line x1="95.14" y1="453.84" x2="95.14" y2="456.36" stroke="#6a6a6a" stroke-width="1.3"/>
<line x1="93.14" y1="453.84" x2="97.14" y2="453.84" stroke="#6a6a6a" stroke-width="1.4"/>
<line x1="93.14" y1="456.36" x2="97.14" y2="456.36" stroke="#6a6a6a" stroke-width="1.4"/>
<line x1="157.42" y1="447.79" x2="157.42" y2="451.82" stroke="#6a6a6a" stroke-width="1.3"/>
<line x1="155.42" y1="447.79" x2="159.42" y2="447.79" stroke="#6a6a6a" stroke-width="1.4"/>
<line x1="155.42" y1="451.82" x2="159.42" y2="451.82" stroke="#6a6a6a" stroke-width="1.4"/>
<line x1="219.7" y1="438.45" x2="219.7" y2="444" stroke="#6a6a6a" stroke-width="1.3"/>
<line x1="217.7" y1="438.45" x2="221.7" y2="438.45" stroke="#6a6a6a" stroke-width="1.4"/>
<line x1="217.7" y1="444" x2="221.7" y2="444" stroke="#6a6a6a" stroke-width="1.4"/>
<line x1="281.98" y1="436.94" x2="281.98" y2="442.49" stroke="#6a6a6a" stroke-width="1.3"/>
<line x1="279.98" y1="436.94" x2="283.98" y2="436.94" stroke="#6a6a6a" stroke-width="1.4"/>
<line x1="279.98" y1="442.49" x2="283.98" y2="442.49" stroke="#6a6a6a" stroke-width="1.4"/>
<polyline points="64,454.6 95.14,454.6 157.42,439.96 219.7,410.45 281.98,389" fill="none" stroke="#5c5c5c" stroke-width="1.25" stroke-linejoin="round"/>
<line x1="64" y1="453.59" x2="64" y2="455.61" stroke="#5c5c5c" stroke-width="1.3"/>
<line x1="62" y1="453.59" x2="66" y2="453.59" stroke="#5c5c5c" stroke-width="1.4"/>
<line x1="62" y1="455.61" x2="66" y2="455.61" stroke="#5c5c5c" stroke-width="1.4"/>
<line x1="95.14" y1="453.08" x2="95.14" y2="456.11" stroke="#5c5c5c" stroke-width="1.3"/>
<line x1="93.14" y1="453.08" x2="97.14" y2="453.08" stroke="#5c5c5c" stroke-width="1.4"/>
<line x1="93.14" y1="456.11" x2="97.14" y2="456.11" stroke="#5c5c5c" stroke-width="1.4"/>
<line x1="157.42" y1="435.68" x2="157.42" y2="444.25" stroke="#5c5c5c" stroke-width="1.3"/>
<line x1="155.42" y1="435.68" x2="159.42" y2="435.68" stroke="#5c5c5c" stroke-width="1.4"/>
<line x1="155.42" y1="444.25" x2="159.42" y2="444.25" stroke="#5c5c5c" stroke-width="1.4"/>
<line x1="219.7" y1="406.16" x2="219.7" y2="414.73" stroke="#5c5c5c" stroke-width="1.3"/>
<line x1="217.7" y1="406.16" x2="221.7" y2="406.16" stroke="#5c5c5c" stroke-width="1.4"/>
<line x1="217.7" y1="414.73" x2="221.7" y2="414.73" stroke="#5c5c5c" stroke-width="1.4"/>
<line x1="281.98" y1="382.69" x2="281.98" y2="395.31" stroke="#5c5c5c" stroke-width="1.3"/>
<line x1="279.98" y1="382.69" x2="283.98" y2="382.69" stroke="#5c5c5c" stroke-width="1.4"/>
<line x1="279.98" y1="395.31" x2="283.98" y2="395.31" stroke="#5c5c5c" stroke-width="1.4"/>
<text transform="translate(8.1 289.29) scale(1.08957 1)" font-size="20.276" font-weight="bold" fill="#000">(c)</text>
<text transform="translate(43.79 294) scale(1.11248 1)" font-size="17.665" font-weight="bold" fill="#000">Partially-roasted- blanch</text>
<text transform="translate(300.07 297.5) scale(1.15954 1)" font-size="15.043" fill="#000">Packaging</text>
<text transform="translate(314.96 326.8) scale(0.99500 1)" font-size="16.425" fill="#000">HP</text>
<text transform="translate(315.01 349.8) scale(1.04648 1)" font-size="16.183" fill="#000">HPO</text>
<text transform="translate(314.64 373.3) scale(1.00766 1)" font-size="16.425" fill="#000">HPV</text>
<text transform="translate(314.69 396.4) scale(0.97501 1)" font-size="16.327" fill="#000">P<tspan fill="#8c8c8c">-</tspan>S</text>
<text transform="translate(114.1 521.5) scale(1.20000 1)" font-size="16.285" letter-spacing="0.026" fill="#000">Interval/weeks</text>
<text transform="translate(19.6 480.94) rotate(-90) scale(0.82000 1)" font-size="19.873" letter-spacing="0.147" fill="#000">Peroxide</text>
<text transform="translate(19.6 412.46) rotate(-90) scale(0.82000 1)" font-size="19.873" letter-spacing="1.406" fill="#000">value/meq/kg</text>
<text transform="translate(44.76 478.05) scale(1.20340 1)" font-size="15.819" fill="#000">0</text>
<text transform="translate(35.66 458.62) scale(1.11585 1)" font-size="15.819" fill="#000">10</text>
<text transform="translate(35.92 433.39) scale(1.09998 1)" font-size="15.819" fill="#000">20</text>
<text transform="translate(36.15 408.16) scale(1.08701 1)" font-size="15.819" fill="#000">30</text>
<text transform="translate(36.41 382.93) scale(1.07135 1)" font-size="15.819" fill="#000">40</text>
<text transform="translate(36.11 357.7) scale(1.08907 1)" font-size="15.819" fill="#000">50</text>
<text transform="translate(35.92 332.47) scale(1.10051 1)" font-size="15.819" fill="#000">60</text>
<text transform="translate(35.91 310.15) scale(1.10103 1)" font-size="15.819" fill="#000">70</text>
<text transform="translate(57.96 498.65) scale(1.27151 1)" font-size="14.972" fill="#000">0</text>
<text transform="translate(88.72 498.8) scale(1.28688 1)" font-size="15.181" fill="#000">2</text>
<text transform="translate(120.57 498.8) scale(1.21075 1)" font-size="15.407" fill="#000">4</text>
<text transform="translate(151.49 498.65) scale(1.33174 1)" font-size="14.972" fill="#000">6</text>
<text transform="translate(182.39 498.65) scale(1.25263 1)" font-size="14.972" fill="#000">8</text>
<text transform="translate(209.18 498.65) scale(1.15892 1)" font-size="14.972" fill="#000">10</text>
<text transform="translate(240.72 498.8) scale(1.10918 1)" font-size="15.181" fill="#000">12</text>
<text transform="translate(271.43 498.8) scale(1.16680 1)" font-size="15.407" fill="#000">14</text>
<line x1="300.9" y1="320.3" x2="313" y2="320.3" stroke="#5c5c5c" stroke-width="1.25"/>
<line x1="300.9" y1="343.5" x2="313" y2="343.5" stroke="#8e8e8e" stroke-width="1.25"/>
<line x1="300.9" y1="366.6" x2="313" y2="366.6" stroke="#c0c0c0" stroke-width="1.25"/>
<line x1="300.9" y1="389.8" x2="313" y2="389.8" stroke="#6a6a6a" stroke-width="1.25"/>
<line x1="455.5" y1="464.5" x2="457.5" y2="464.5" stroke="#b4b4b4" stroke-width="1"/>
<line x1="454" y1="451.5" x2="457.5" y2="451.5" stroke="#b4b4b4" stroke-width="1"/>
<line x1="455.5" y1="439.5" x2="457.5" y2="439.5" stroke="#b4b4b4" stroke-width="1"/>
<line x1="454" y1="426.5" x2="457.5" y2="426.5" stroke="#b4b4b4" stroke-width="1"/>
<line x1="455.5" y1="414.5" x2="457.5" y2="414.5" stroke="#b4b4b4" stroke-width="1"/>
<line x1="454" y1="401.5" x2="457.5" y2="401.5" stroke="#b4b4b4" stroke-width="1"/>
<line x1="455.5" y1="388.5" x2="457.5" y2="388.5" stroke="#b4b4b4" stroke-width="1"/>
<line x1="454" y1="376.5" x2="457.5" y2="376.5" stroke="#b4b4b4" stroke-width="1"/>
<line x1="455.5" y1="363.5" x2="457.5" y2="363.5" stroke="#b4b4b4" stroke-width="1"/>
<line x1="454" y1="350.5" x2="457.5" y2="350.5" stroke="#b4b4b4" stroke-width="1"/>
<line x1="455.5" y1="338.5" x2="457.5" y2="338.5" stroke="#b4b4b4" stroke-width="1"/>
<line x1="454" y1="325.5" x2="457.5" y2="325.5" stroke="#b4b4b4" stroke-width="1"/>
<line x1="455.5" y1="313.5" x2="457.5" y2="313.5" stroke="#b4b4b4" stroke-width="1"/>
<line x1="454" y1="300.5" x2="457.5" y2="300.5" stroke="#b4b4b4" stroke-width="1"/>
<line x1="460.5" y1="476.5" x2="460.5" y2="480" stroke="#b4b4b4" stroke-width="1"/>
<line x1="474.5" y1="476.5" x2="474.5" y2="478.5" stroke="#b4b4b4" stroke-width="1"/>
<line x1="489.5" y1="476.5" x2="489.5" y2="480" stroke="#b4b4b4" stroke-width="1"/>
<line x1="504.5" y1="476.5" x2="504.5" y2="478.5" stroke="#b4b4b4" stroke-width="1"/>
<line x1="519.5" y1="476.5" x2="519.5" y2="480" stroke="#b4b4b4" stroke-width="1"/>
<line x1="534.5" y1="476.5" x2="534.5" y2="478.5" stroke="#b4b4b4" stroke-width="1"/>
<line x1="548.5" y1="476.5" x2="548.5" y2="480" stroke="#b4b4b4" stroke-width="1"/>
<line x1="563.5" y1="476.5" x2="563.5" y2="478.5" stroke="#b4b4b4" stroke-width="1"/>
<line x1="578.5" y1="476.5" x2="578.5" y2="480" stroke="#b4b4b4" stroke-width="1"/>
<line x1="593.5" y1="476.5" x2="593.5" y2="478.5" stroke="#b4b4b4" stroke-width="1"/>
<line x1="608.5" y1="476.5" x2="608.5" y2="480" stroke="#b4b4b4" stroke-width="1"/>
<line x1="622.5" y1="476.5" x2="622.5" y2="478.5" stroke="#b4b4b4" stroke-width="1"/>
<line x1="637.5" y1="476.5" x2="637.5" y2="480" stroke="#b4b4b4" stroke-width="1"/>
<line x1="652.5" y1="476.5" x2="652.5" y2="478.5" stroke="#b4b4b4" stroke-width="1"/>
<line x1="667.5" y1="476.5" x2="667.5" y2="480" stroke="#b4b4b4" stroke-width="1"/>
<line x1="682.5" y1="476.5" x2="682.5" y2="478.5" stroke="#b4b4b4" stroke-width="1"/>
<line x1="457" y1="297.5" x2="682" y2="297.5" stroke="#cdcdcd" stroke-width="1"/>
<line x1="681.5" y1="297.5" x2="681.5" y2="477" stroke="#cdcdcd" stroke-width="1"/>
<line x1="457.5" y1="297" x2="457.5" y2="477" stroke="#cdcdcd" stroke-width="1"/>
<line x1="454.5" y1="476.5" x2="682" y2="476.5" stroke="#cdcdcd" stroke-width="1"/>
<polyline points="460.9,456.08 490.48,453.56 549.64,451.3 608.8,447.26 667.96,443.48" fill="none" stroke="#c0c0c0" stroke-width="1.25" stroke-linejoin="round"/>
<line x1="460.9" y1="455.33" x2="460.9" y2="456.84" stroke="#c0c0c0" stroke-width="1.3"/>
<line x1="458.9" y1="455.33" x2="462.9" y2="455.33" stroke="#c0c0c0" stroke-width="1.4"/>
<line x1="458.9" y1="456.84" x2="462.9" y2="456.84" stroke="#c0c0c0" stroke-width="1.4"/>
<line x1="490.48" y1="452.56" x2="490.48" y2="454.57" stroke="#c0c0c0" stroke-width="1.3"/>
<line x1="488.48" y1="452.56" x2="492.48" y2="452.56" stroke="#c0c0c0" stroke-width="1.4"/>
<line x1="488.48" y1="454.57" x2="492.48" y2="454.57" stroke="#c0c0c0" stroke-width="1.4"/>
<line x1="549.64" y1="450.04" x2="549.64" y2="452.56" stroke="#c0c0c0" stroke-width="1.3"/>
<line x1="547.64" y1="450.04" x2="551.64" y2="450.04" stroke="#c0c0c0" stroke-width="1.4"/>
<line x1="547.64" y1="452.56" x2="551.64" y2="452.56" stroke="#c0c0c0" stroke-width="1.4"/>
<line x1="608.8" y1="445.75" x2="608.8" y2="448.78" stroke="#c0c0c0" stroke-width="1.3"/>
<line x1="606.8" y1="445.75" x2="610.8" y2="445.75" stroke="#c0c0c0" stroke-width="1.4"/>
<line x1="606.8" y1="448.78" x2="610.8" y2="448.78" stroke="#c0c0c0" stroke-width="1.4"/>
<line x1="667.96" y1="437.44" x2="667.96" y2="449.53" stroke="#c0c0c0" stroke-width="1.3"/>
<line x1="665.96" y1="437.44" x2="669.96" y2="437.44" stroke="#c0c0c0" stroke-width="1.4"/>
<line x1="665.96" y1="449.53" x2="669.96" y2="449.53" stroke="#c0c0c0" stroke-width="1.4"/>
<polyline points="460.9,456.34 490.48,455.08 549.64,451.8 608.8,450.29 667.96,448.78" fill="none" stroke="#8e8e8e" stroke-width="1.25" stroke-linejoin="round"/>
<line x1="460.9" y1="455.58" x2="460.9" y2="457.09" stroke="#8e8e8e" stroke-width="1.3"/>
<line x1="458.9" y1="455.58" x2="462.9" y2="455.58" stroke="#8e8e8e" stroke-width="1.4"/>
<line x1="458.9" y1="457.09" x2="462.9" y2="457.09" stroke="#8e8e8e" stroke-width="1.4"/>
<line x1="490.48" y1="454.07" x2="490.48" y2="456.08" stroke="#8e8e8e" stroke-width="1.3"/>
<line x1="488.48" y1="454.07" x2="492.48" y2="454.07" stroke="#8e8e8e" stroke-width="1.4"/>
<line x1="488.48" y1="456.08" x2="492.48" y2="456.08" stroke="#8e8e8e" stroke-width="1.4"/>
<line x1="549.64" y1="450.79" x2="549.64" y2="452.81" stroke="#8e8e8e" stroke-width="1.3"/>
<line x1="547.64" y1="450.79" x2="551.64" y2="450.79" stroke="#8e8e8e" stroke-width="1.4"/>
<line x1="547.64" y1="452.81" x2="551.64" y2="452.81" stroke="#8e8e8e" stroke-width="1.4"/>
<line x1="608.8" y1="449.03" x2="608.8" y2="451.55" stroke="#8e8e8e" stroke-width="1.3"/>
<line x1="606.8" y1="449.03" x2="610.8" y2="449.03" stroke="#8e8e8e" stroke-width="1.4"/>
<line x1="606.8" y1="451.55" x2="610.8" y2="451.55" stroke="#8e8e8e" stroke-width="1.4"/>
<line x1="667.96" y1="447.52" x2="667.96" y2="450.04" stroke="#8e8e8e" stroke-width="1.3"/>
<line x1="665.96" y1="447.52" x2="669.96" y2="447.52" stroke="#8e8e8e" stroke-width="1.4"/>
<line x1="665.96" y1="450.04" x2="669.96" y2="450.04" stroke="#8e8e8e" stroke-width="1.4"/>
<polyline points="460.9,455.58 490.48,453.56 549.64,451.3 608.8,447.01 667.96,444.24" fill="none" stroke="#6a6a6a" stroke-width="1.25" stroke-linejoin="round"/>
<line x1="460.9" y1="454.82" x2="460.9" y2="456.34" stroke="#6a6a6a" stroke-width="1.3"/>
<line x1="458.9" y1="454.82" x2="462.9" y2="454.82" stroke="#6a6a6a" stroke-width="1.4"/>
<line x1="458.9" y1="456.34" x2="462.9" y2="456.34" stroke="#6a6a6a" stroke-width="1.4"/>
<line x1="490.48" y1="452.56" x2="490.48" y2="454.57" stroke="#6a6a6a" stroke-width="1.3"/>
<line x1="488.48" y1="452.56" x2="492.48" y2="452.56" stroke="#6a6a6a" stroke-width="1.4"/>
<line x1="488.48" y1="454.57" x2="492.48" y2="454.57" stroke="#6a6a6a" stroke-width="1.4"/>
<line x1="549.64" y1="450.04" x2="549.64" y2="452.56" stroke="#6a6a6a" stroke-width="1.3"/>
<line x1="547.64" y1="450.04" x2="551.64" y2="450.04" stroke="#6a6a6a" stroke-width="1.4"/>
<line x1="547.64" y1="452.56" x2="551.64" y2="452.56" stroke="#6a6a6a" stroke-width="1.4"/>
<line x1="608.8" y1="445.5" x2="608.8" y2="448.52" stroke="#6a6a6a" stroke-width="1.3"/>
<line x1="606.8" y1="445.5" x2="610.8" y2="445.5" stroke="#6a6a6a" stroke-width="1.4"/>
<line x1="606.8" y1="448.52" x2="610.8" y2="448.52" stroke="#6a6a6a" stroke-width="1.4"/>
<line x1="667.96" y1="442.22" x2="667.96" y2="446.26" stroke="#6a6a6a" stroke-width="1.3"/>
<line x1="665.96" y1="442.22" x2="669.96" y2="442.22" stroke="#6a6a6a" stroke-width="1.4"/>
<line x1="665.96" y1="446.26" x2="669.96" y2="446.26" stroke="#6a6a6a" stroke-width="1.4"/>
<polyline points="460.9,455.08 490.48,449.78 549.64,439.96 608.8,420.55 667.96,398.88" fill="none" stroke="#5c5c5c" stroke-width="1.25" stroke-linejoin="round"/>
<line x1="460.9" y1="454.32" x2="460.9" y2="455.83" stroke="#5c5c5c" stroke-width="1.3"/>
<line x1="458.9" y1="454.32" x2="462.9" y2="454.32" stroke="#5c5c5c" stroke-width="1.4"/>
<line x1="458.9" y1="455.83" x2="462.9" y2="455.83" stroke="#5c5c5c" stroke-width="1.4"/>
<line x1="490.48" y1="447.77" x2="490.48" y2="451.8" stroke="#5c5c5c" stroke-width="1.3"/>
<line x1="488.48" y1="447.77" x2="492.48" y2="447.77" stroke="#5c5c5c" stroke-width="1.4"/>
<line x1="488.48" y1="451.8" x2="492.48" y2="451.8" stroke="#5c5c5c" stroke-width="1.4"/>
<line x1="549.64" y1="432.4" x2="549.64" y2="447.52" stroke="#5c5c5c" stroke-width="1.3"/>
<line x1="547.64" y1="432.4" x2="551.64" y2="432.4" stroke="#5c5c5c" stroke-width="1.4"/>
<line x1="547.64" y1="447.52" x2="551.64" y2="447.52" stroke="#5c5c5c" stroke-width="1.4"/>
<line x1="608.8" y1="417.28" x2="608.8" y2="423.83" stroke="#5c5c5c" stroke-width="1.3"/>
<line x1="606.8" y1="417.28" x2="610.8" y2="417.28" stroke="#5c5c5c" stroke-width="1.4"/>
<line x1="606.8" y1="423.83" x2="610.8" y2="423.83" stroke="#5c5c5c" stroke-width="1.4"/>
<line x1="667.96" y1="396.86" x2="667.96" y2="400.9" stroke="#5c5c5c" stroke-width="1.3"/>
<line x1="665.96" y1="396.86" x2="669.96" y2="396.86" stroke="#5c5c5c" stroke-width="1.4"/>
<line x1="665.96" y1="400.9" x2="669.96" y2="400.9" stroke="#5c5c5c" stroke-width="1.4"/>
<text transform="translate(394.13 285.5) scale(1.03384 1)" font-size="20.705" font-weight="bold" fill="#000">(d)</text>
<text transform="translate(425.55 293.4) scale(1.15190 1)" font-size="16.285" font-weight="bold" fill="#000">Partially-roasted-not- blanch</text>
<text transform="translate(685.26 297.9) scale(1.07473 1)" font-size="15.181" fill="#000">Packaging</text>
<text transform="translate(698.91 326.9) scale(0.93144 1)" font-size="16.861" fill="#000">HP</text>
<text transform="translate(699.08 349.8) scale(1.00976 1)" font-size="15.897" fill="#000">HPO</text>
<text transform="translate(698.73 373.4) scale(0.92939 1)" font-size="16.715" fill="#000">HPV</text>
<text transform="translate(698.73 396.8) scale(0.94287 1)" font-size="16.470" fill="#000">P<tspan fill="#8c8c8c">-</tspan>S</text>
<text transform="translate(508.78 521.9) scale(1.10667 1)" font-size="16.837" fill="#000">Interval/weeks</text>
<text transform="translate(418.9 483.07) rotate(-90) scale(0.82000 1)" font-size="18.907" letter-spacing="0.692" fill="#000">Peroxide</text>
<text transform="translate(418.9 414.85) rotate(-90) scale(0.82000 1)" font-size="18.907" letter-spacing="1.900" fill="#000">value/meq/kg</text>
<text transform="translate(443.84 478.05) scale(1.07115 1)" font-size="15.819" fill="#000">0</text>
<text transform="translate(434.62 458.85) scale(1.05879 1)" font-size="15.819" fill="#000">10</text>
<text transform="translate(434.76 433.65) scale(1.05055 1)" font-size="15.819" fill="#000">20</text>
<text transform="translate(434.97 408.45) scale(1.03816 1)" font-size="15.819" fill="#000">30</text>
<text transform="translate(435.23 383.25) scale(1.02320 1)" font-size="15.819" fill="#000">40</text>
<text transform="translate(434.94 358.05) scale(1.04012 1)" font-size="15.819" fill="#000">50</text>
<text transform="translate(434.76 332.85) scale(1.05105 1)" font-size="15.819" fill="#000">60</text>
<text transform="translate(434.75 310.15) scale(1.05155 1)" font-size="15.819" fill="#000">70</text>
<text transform="translate(455.56 498.65) scale(1.25754 1)" font-size="14.972" fill="#000">0</text>
<text transform="translate(485.39 498.8) scale(1.18567 1)" font-size="15.181" fill="#000">2</text>
<text transform="translate(515.11 498.8) scale(1.10770 1)" font-size="15.407" fill="#000">4</text>
<text transform="translate(544.44 498.65) scale(1.25936 1)" font-size="14.972" fill="#000">6</text>
<text transform="translate(573.94 498.65) scale(1.16722 1)" font-size="14.972" fill="#000">8</text>
<text transform="translate(598.7 498.65) scale(1.13882 1)" font-size="14.972" fill="#000">10</text>
<text transform="translate(629.46 498.8) scale(1.07577 1)" font-size="15.181" fill="#000">12</text>
<text transform="translate(658.38 498.8) scale(1.03787 1)" font-size="15.407" fill="#000">14</text>
<line x1="685.8" y1="320.5" x2="697" y2="320.5" stroke="#5c5c5c" stroke-width="1.25"/>
<line x1="685.8" y1="343.5" x2="697" y2="343.5" stroke="#8e8e8e" stroke-width="1.25"/>
<line x1="685.8" y1="366.7" x2="697" y2="366.7" stroke="#c0c0c0" stroke-width="1.25"/>
<line x1="685.8" y1="389.6" x2="697" y2="389.6" stroke="#6a6a6a" stroke-width="1.25"/>
</g></svg></div>
</body></html>
